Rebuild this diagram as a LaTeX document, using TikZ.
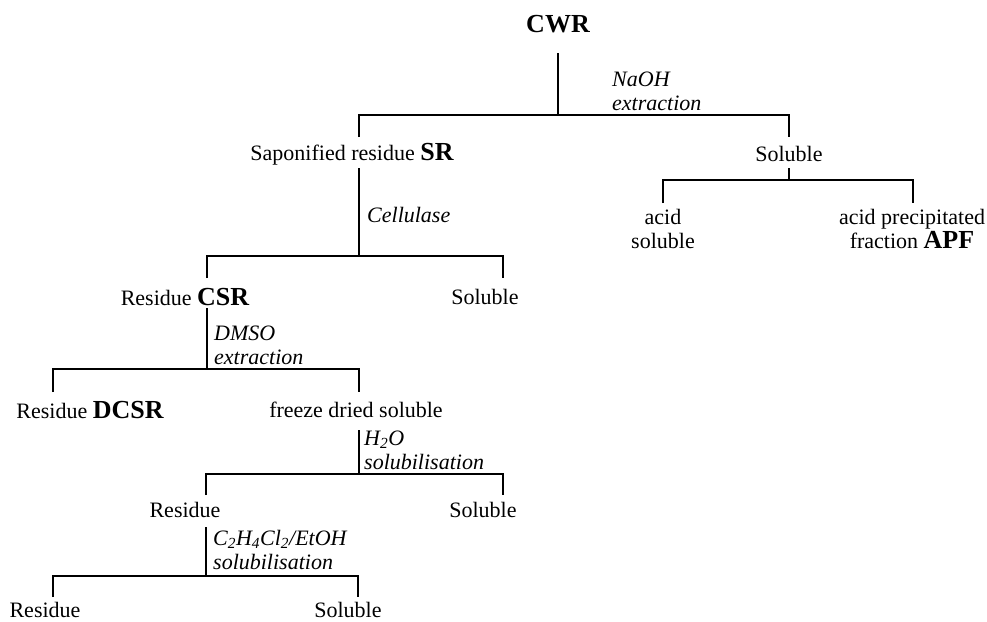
\documentclass[tikz,border=0pt]{standalone}
\usepackage{fontspec}
\setmainfont{Liberation Serif}
\newcommand{\bb}[1]{{\fontsize{26}{28}\selectfont\bfseries #1}}
\tikzset{
  lbl/.style={inner sep=0pt, font=\fontsize{22}{24}\selectfont},
  proc/.style={inner sep=0pt, font=\fontsize{22}{24}\selectfont\itshape, align=left, anchor=west},
  ln/.style={line width=1.4pt, line join=miter},
}
\begin{document}
\begin{tikzpicture}[x=1pt,y=-1pt]
\useasboundingbox (0,0) rectangle (987,621);
% text nodes
\node[lbl] (CWR) at (558,24) {\bb{CWR}};
\node[proc] (naoh) at (612,91) {NaOH\\extraction};
\node[lbl] (SR) at (352,154) {Saponified residue \bb{SR}};
\node[lbl] (S1) at (789,154) {Soluble};
\node[proc] (cell) at (367,215) {Cellulase};
\node[lbl] (CSR) at (185,297) {Residue \bb{CSR}};
\node[lbl] (S2) at (485,297) {Soluble};
\node[lbl,align=center] (AS) at (663,229) {acid\\soluble};
\node[lbl,align=center] (APF) at (912,229) {acid precipitated\\fraction \bb{APF}};
\node[proc] (dmso) at (214,345) {DMSO\\extraction};
\node[lbl] (DCSR) at (90,410) {Residue \bb{DCSR}};
\node[lbl] (FDS) at (356,410) {freeze dried soluble};
\node[proc] (h2o) at (364,450) {H\textsubscript{2}O\\solubilisation};
\node[lbl] (R3) at (185,510) {Residue};
\node[lbl] (S3) at (483,510) {Soluble};
\node[proc] (c2h4) at (213,550) {C\textsubscript{2}H\textsubscript{4}Cl\textsubscript{2}/EtOH\\solubilisation};
\node[lbl] (R4) at (45,610) {Residue};
\node[lbl] (S4) at (348,610) {Soluble};
% split 1: CWR
\coordinate (a0) at (558,53); \coordinate (a1) at (558,115);
\coordinate (aL) at (359,137); \coordinate (aR) at (789,137);
\draw[ln] (a0) -- (a1);
\draw[ln] (aL) |- (a1) -| (aR);
% split 2: SR
\coordinate (b0) at (359,168); \coordinate (b1) at (359,256);
\coordinate (bL) at (207,278); \coordinate (bR) at (503,278);
\draw[ln] (b0) -- (b1);
\draw[ln] (bL) |- (b1) -| (bR);
% split 3: Soluble
\coordinate (c0) at (789,168); \coordinate (c1) at (789,180);
\coordinate (cL) at (663,203); \coordinate (cR) at (913,203);
\draw[ln] (c0) -- (c1);
\draw[ln] (cL) |- (c1) -| (cR);
% split 4: CSR
\coordinate (d0) at (207,308); \coordinate (d1) at (207,369);
\coordinate (dL) at (53,392); \coordinate (dR) at (359,392);
\draw[ln] (d0) -- (d1);
\draw[ln] (dL) |- (d1) -| (dR);
% split 5: freeze dried soluble
\coordinate (e0) at (359,430); \coordinate (e1) at (359,474);
\coordinate (eL) at (206,495); \coordinate (eR) at (503,495);
\draw[ln] (e0) -- (e1);
\draw[ln] (eL) |- (e1) -| (eR);
% split 6: Residue
\coordinate (f0) at (206,527); \coordinate (f1) at (206,576);
\coordinate (fL) at (53,597); \coordinate (fR) at (358,597);
\draw[ln] (f0) -- (f1);
\draw[ln] (fL) |- (f1) -| (fR);
\end{tikzpicture}
\end{document}
